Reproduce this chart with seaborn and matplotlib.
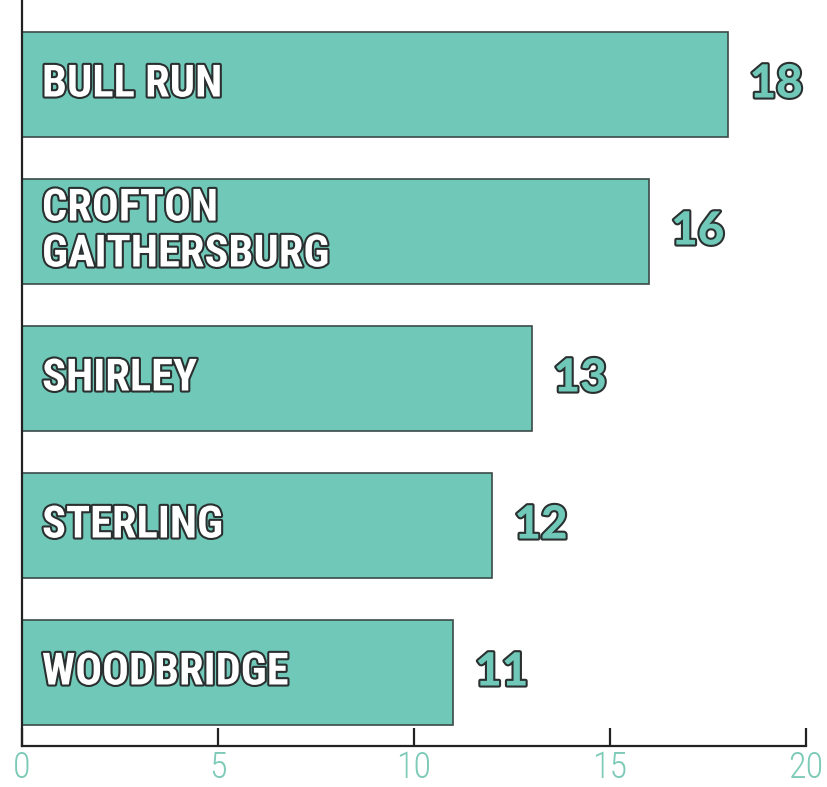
import pandas as pd
import matplotlib.pyplot as plt
import matplotlib.patheffects as pe
import seaborn as sns

# Data
sites = ["BULL RUN", "CROFTON\nGAITHERSBURG", "SHIRLEY", "STERLING", "WOODBRIDGE"]
counts = [18, 16, 13, 12, 11]
x_ticks = [0, 5, 10, 15, 20]

BAR_COLOR = "#6fc8b8"
EDGE_COLOR = "#3b4a48"
TICK_COLOR = "#7ccab7"

df = pd.DataFrame({"site": sites, "count": counts})

sns.set_style("ticks")
fig = plt.figure(figsize=(8.27, 7.87), dpi=100)
ax = fig.add_axes([22 / 827, 1 - 746 / 787, (806 - 22) / 827, 746 / 787])

sns.barplot(data=df, y="site", x="count", orient="h", color=BAR_COLOR,
            edgecolor=EDGE_COLOR, linewidth=1.2, width=0.714, saturation=1, ax=ax)

ax.set_xlim(0, 20)
ax.set_ylim(4.5, -0.575)
ax.set_xticks(x_ticks)
ax.set_xlabel("")
ax.set_ylabel("")
ax.set_yticks([])

for side in ["top", "right"]:
    ax.spines[side].set_visible(False)
for side in ["left", "bottom"]:
    ax.spines[side].set_color("#222222")
    ax.spines[side].set_linewidth(1.6)
    ax.spines[side].set_zorder(5)

ax.tick_params(axis="x", which="major", bottom=True, direction="in", length=13, width=1.6,
               color="#222222", labelsize=26, labelcolor=TICK_COLOR, pad=3)
for tick in ax.xaxis.get_major_ticks():
    tick.tick1line.set_visible(True)
    tick.set_zorder(5)
for lab in ax.get_xticklabels():
    lab.set_fontfamily("Roboto Condensed")
    lab.set_fontweight(300)

outline = [pe.withStroke(linewidth=3, foreground="#2a2f2f")]
for i, (name, val) in enumerate(zip(sites, counts)):
    ax.text(0.51, i, name, ha="left", va="center", color="white",
            fontsize=32, fontweight="bold", family="Roboto Condensed",
            linespacing=1.12, path_effects=outline)
    ax.text(val + 0.56, i, str(val), ha="left", va="center", color=BAR_COLOR,
            fontsize=33, fontweight="black", family="Lato", path_effects=outline)

fig.savefig("out.png", dpi=100)
